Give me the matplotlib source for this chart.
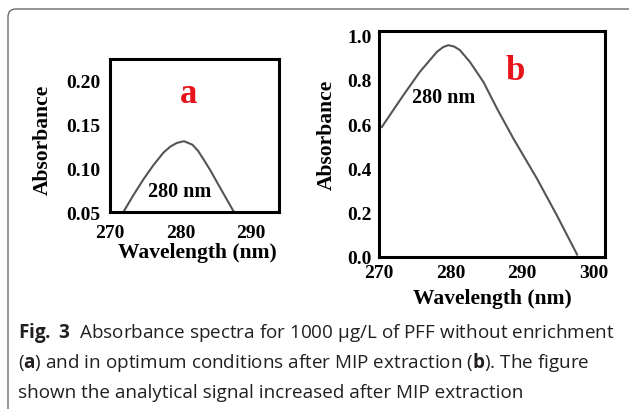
import matplotlib
matplotlib.use("Agg")
import matplotlib.pyplot as plt
from matplotlib.patches import FancyBboxPatch
from matplotlib.transforms import IdentityTransform

# spectrum a: without enrichment
wl_a = [271.9, 273.3, 274.8, 276.2, 277.6, 278.6, 279.5, 280.5, 281.7, 282.5, 283.3, 284.3, 285.2, 286.4, 287.6]
abs_a = [0.050, 0.069, 0.088, 0.104, 0.118, 0.125, 0.129, 0.131, 0.127, 0.120, 0.110, 0.097, 0.084, 0.067, 0.050]

# spectrum b: after MIP extraction
wl_b = [270.4, 273.4, 275.7, 278.1, 279.0, 279.7, 280.5, 281.3, 282.7, 284.6, 286.5, 288.8, 292.1, 294.9, 297.7]
abs_b = [0.587, 0.730, 0.835, 0.926, 0.948, 0.956, 0.950, 0.934, 0.881, 0.790, 0.670, 0.534, 0.353, 0.186, 0.011]

xticks_a = [270, 280, 290]
yticks_a = [0.05, 0.10, 0.15, 0.20]
xticks_b = [270, 280, 290, 300]
yticks_b = [0.0, 0.2, 0.4, 0.6, 0.8, 1.0]

caption = [
    r"$\mathbf{Fig.}$ $\mathbf{3}$  Absorbance spectra for 1000 µg/L of PFF without enrichment",
    r"($\mathbf{a}$) and in optimum conditions after MIP extraction ($\mathbf{b}$). The figure",
    "shown the analytical signal increased after MIP extraction",
]

cap_font = "Open Sans"
plt.rcParams["mathtext.fontset"] = "custom"
plt.rcParams["mathtext.rm"] = cap_font
plt.rcParams["mathtext.bf"] = cap_font + ":bold"

W, H = 629, 410
fig = plt.figure(figsize=(W / 100, H / 100), dpi=100)

serif = "Liberation Serif"
line_col = "#555555"


def px_axes(l, t, r, b):
    return fig.add_axes([l / W, 1 - b / H, (r - l) / W, (b - t) / H])


def style(ax, xlim, ylim, xt, yt, yfmt, xpad, ypad):
    ax.set_xlim(*xlim)
    ax.set_ylim(*ylim)
    ax.set_xticks(xt)
    ax.set_yticks(yt)
    ax.set_yticklabels([yfmt.format(v) for v in yt])
    for s in ax.spines.values():
        s.set_linewidth(2.2)
    ax.tick_params(axis="x", length=0, pad=xpad)
    ax.tick_params(axis="y", length=0, pad=ypad)
    for lab in ax.get_xticklabels() + ax.get_yticklabels():
        lab.set_fontfamily(serif)
        lab.set_fontweight("bold")
        lab.set_fontsize(14)


# panel a
ax = px_axes(110, 60, 279, 213)
ax.plot(wl_a, abs_a, color=line_col, lw=1.5)
style(ax, (270, 294), (0.05, 0.225), xticks_a, yticks_a, "{:.2f}", 9, 7)
ax.text(281.1, 0.186, "a", color="#e8141c", fontsize=25, fontweight="bold",
        fontfamily=serif, ha="center", va="center")
ax.text(279.9, 0.074, "280 nm", fontsize=14.5, fontweight="bold",
        fontfamily=serif, ha="center", va="center")
ax.text(-0.40, 0.48, "Absorbance", transform=ax.transAxes, rotation=90,
        fontsize=15.5, fontweight="bold", fontfamily=serif, ha="center", va="center")
ax.text(0.515, -0.26, "Wavelength (nm)", transform=ax.transAxes,
        fontsize=15.5, fontweight="bold", fontfamily=serif, ha="center", va="center")

# panel b
ax = px_axes(379, 32, 605, 258)
ax.plot(wl_b, abs_b, color=line_col, lw=1.5)
style(ax, (270, 301.6), (0, 1.02), xticks_b, yticks_b, "{:.1f}", 5, 5)
ax.text(289.1, 0.84, "b", color="#e8141c", fontsize=25, fontweight="bold",
        fontfamily=serif, ha="center", va="center")
ax.text(279.0, 0.72, "280 nm", fontsize=14.5, fontweight="bold",
        fontfamily=serif, ha="center", va="center")
ax.text(-0.23, 0.545, "Absorbance", transform=ax.transAxes, rotation=90,
        fontsize=15.5, fontweight="bold", fontfamily=serif, ha="center", va="center")
ax.text(0.50, -0.18, "Wavelength (nm)", transform=ax.transAxes,
        fontsize=15.5, fontweight="bold", fontfamily=serif, ha="center", va="center")

# caption
for i, line in enumerate(caption):
    fig.text(18 / W, 1 - (333 + 30 * i) / H, line, fontfamily=cap_font,
             fontsize=13.6, va="center", ha="left", color="#231f20")

# rounded frame, runs off the right and bottom edges
frame = FancyBboxPatch((8, -8), 630, H - 10 + 8, boxstyle="round,pad=0,rounding_size=8",
                       transform=IdentityTransform(), fill=False, edgecolor="#6b6b6b", lw=1.0)
fig.add_artist(frame)

fig.savefig("out.png", dpi=100)
